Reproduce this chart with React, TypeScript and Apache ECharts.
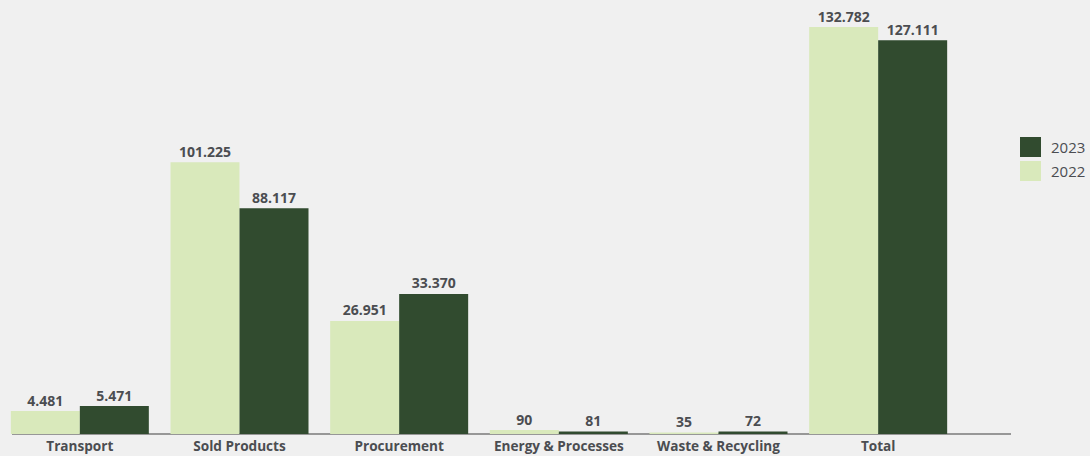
import React, { useEffect, useRef } from "react";
import * as echarts from "echarts";

const categories = ["Transport", "Sold Products", "Procurement", "Energy & Processes", "Waste & Recycling", "Total"];
// printed values
const values2022 = [4481, 101225, 26951, 90, 35, 132782];
const values2023 = [5471, 88117, 33370, 81, 72, 127111];
// bar heights as drawn in the picture (the picture is not to a linear scale), in thousands
const heights2022 = [7.5, 88.7, 36.9, 1.3, 0.45, 132.8];
const heights2023 = [9.1, 73.7, 45.7, 0.8, 0.8, 128.5];

const LIGHT = "#d9e9bb";
const DARK = "#314b2f";
const TEXT = "#4b4d51";
const FONT = "Open Sans";

const fmt = (v: number) => String(v).replace(/\B(?=(\d{3})+(?!\d))/g, ".");

export default function App() {
  const ref = useRef<HTMLDivElement>(null);
  useEffect(() => {
    if (!ref.current) return;
    const chart = echarts.init(ref.current, undefined, { renderer: "svg" });
    const label = (vals: number[]) => ({
      show: true,
      position: "top" as const,
      distance: 4,
      fontFamily: FONT,
      fontWeight: "bold" as const,
      fontSize: 14,
      color: TEXT,
      formatter: (p: any) => fmt(vals[p.dataIndex]),
    });
    chart.setOption({
      animation: false,
      backgroundColor: "#f0f0f0",
      textStyle: { fontFamily: FONT },
      grid: { left: -2, width: 960, top: 5, bottom: 22, containLabel: false },
      legend: {
        data: ["2023", "2022"],
        orient: "vertical",
        left: 1015,
        top: 132,
        itemWidth: 21,
        itemHeight: 20,
        itemGap: 4,
        icon: "rect",
        textStyle: { fontFamily: FONT, fontSize: 15, color: TEXT, padding: [0, 0, 0, 5] },
      },
      xAxis: {
        type: "category",
        data: categories,
        axisLine: { show: false },
        axisTick: { show: false },
        axisLabel: {
          fontFamily: FONT,
          fontWeight: "bold",
          fontSize: 13.6,
          color: TEXT,
          margin: 4,
          interval: 0,
        },
      },
      yAxis: {
        type: "value",
        min: 0,
        max: 140,
        show: false,
        splitLine: { show: false },
      },
      graphic: [
        {
          type: "line",
          shape: { x1: 12, y1: 434, x2: 1011, y2: 434 },
          style: { stroke: "#7a7a7a", lineWidth: 1.5 },
          z: 0,
        },
      ],
      series: [
        {
          name: "2022",
          type: "bar",
          data: heights2022,
          barWidth: 69,
          barGap: "0%",
          itemStyle: { color: LIGHT },
          label: label(values2022),
          z: 3,
        },
        {
          name: "2023",
          type: "bar",
          data: heights2023,
          barWidth: 69,
          barGap: "0%",
          itemStyle: { color: DARK },
          label: label(values2023),
          z: 3,
        },
      ],
    });
    return () => chart.dispose();
  }, []);
  return <div ref={ref} style={{ width: 1090, height: 456, position: "absolute", left: 0, top: 0 }} />;
}
